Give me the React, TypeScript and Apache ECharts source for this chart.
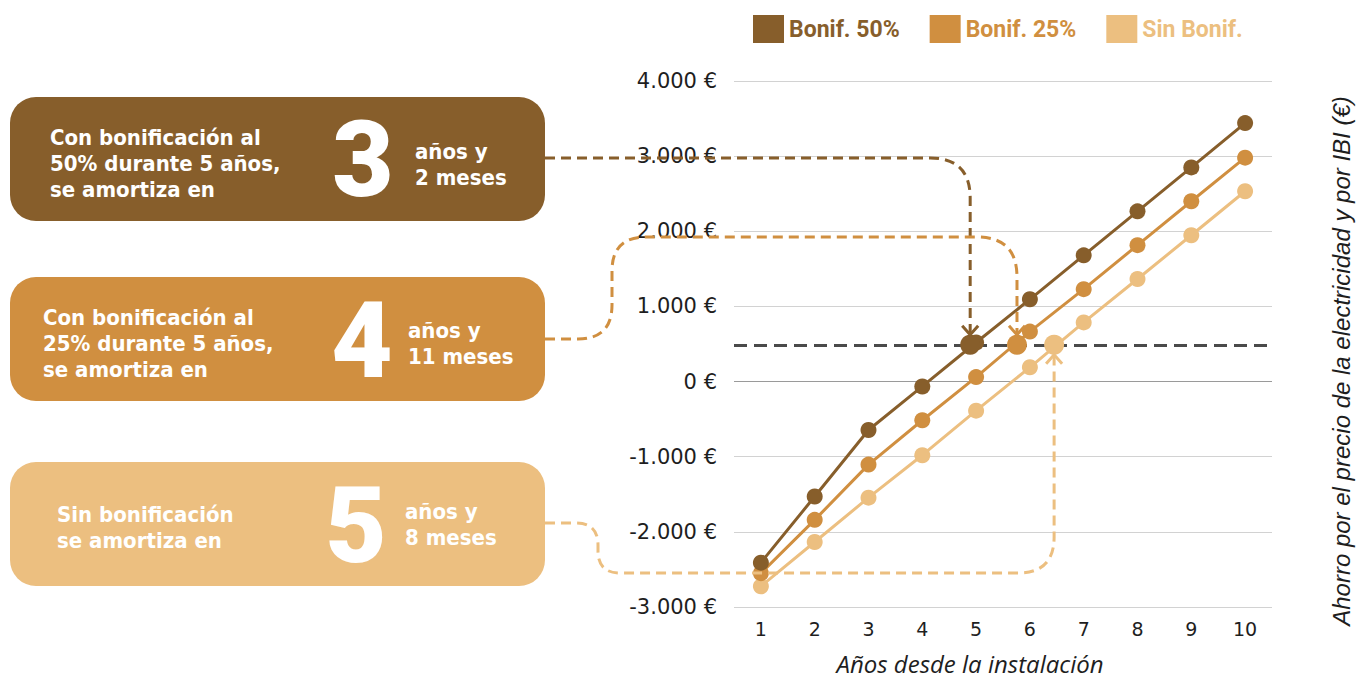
import React, { useEffect, useRef } from "react";
import * as echarts from "echarts";

const years = ["1", "2", "3", "4", "5", "6", "7", "8", "9", "10"];
const bonif50 = [-2410, -1530, -645, -65, 520, 1095, 1680, 2265, 2850, 3440];
const bonif25 = [-2550, -1840, -1105, -515, 60, 665, 1230, 1815, 2400, 2980];
const sinBonif = [-2725, -2135, -1545, -980, -387, 190, 787, 1365, 1947, 2533];
const threshold = 490;
// payback positions on the year axis (visual position of markers)
const paybackX = [4.89, 5.76, 6.45];
const seriesNames = ["Bonif. 50%", "Bonif. 25%", "Sin Bonif."];
const bigDigits = ["3", "4", "5"];
const boxLeftTexts = [
  "Con bonificación al\n50% durante 5 años,\nse amortiza en",
  "Con bonificación al\n25% durante 5 años,\nse amortiza en",
  "Sin bonificación\nse amortiza en",
];
const boxRightTexts = ["años y\n2 meses", "años y\n11 meses", "años y\n8 meses"];
const yTicksMin = -3000;
const yTicksMax = 4000;
const yTickStep = 1000;

const COLORS = ["#875E2B", "#D08F40", "#ECBF80"];
const TEXT = "#1e1e1e";
const BOX_FONT = "'DejaVu Sans Condensed', 'DejaVu Sans', Roboto, sans-serif";

function fmt(v: number) {
  const s = Math.abs(v).toString().replace(/\B(?=(\d{3})+(?!\d))/g, ".");
  return (v < 0 ? "-" : "") + s + " €";
}

export default function App() {
  const ref = useRef<HTMLDivElement>(null);
  useEffect(() => {
    const chart = echarts.init(ref.current!, null, { renderer: "svg" });
    const splitColors = [];
    for (let v = yTicksMin; v <= yTicksMax; v += yTickStep) splitColors.push(v === 0 ? "#9a9a9a" : "#d2d2d2");
    const data = [bonif50, bonif25, sinBonif];
    const zs = [5, 4, 3];
    chart.setOption({
      animation: false,
      grid: { left: 734, right: 85, top: 81, bottom: 73, containLabel: false, outerBoundsMode: "none" },
      legend: {
        left: 753,
        top: 15,
        padding: 0,
        icon: "rect",
        itemWidth: 31,
        itemHeight: 28,
        itemGap: 30,
        selectedMode: false,
        data: seriesNames.map((n, i) => ({
          name: n,
          textStyle: { color: COLORS[i] },
        })),
        textStyle: { fontFamily: "Roboto", fontWeight: "bold", fontSize: 23 },
      },
      xAxis: [
        {
          type: "category",
          data: years,
          axisLine: { show: false },
          axisTick: { show: false },
          axisLabel: { margin: 12, fontSize: 19, fontFamily: "DejaVu Sans", color: TEXT },
          name: "Años desde la instalación",
          nameLocation: "middle",
          nameGap: 44,
          nameTextStyle: {
            fontStyle: "italic",
            fontSize: 24,
            fontFamily: "Open Sans",
            color: TEXT,
            padding: [0, 66, 0, 0],
          },
        },
        { type: "value", min: 0.5, max: 10.5, show: false },
      ],
      yAxis: {
        type: "value",
        min: yTicksMin,
        max: yTicksMax,
        interval: yTickStep,
        axisLine: { show: false },
        axisTick: { show: false },
        axisLabel: { margin: 17, fontSize: 21, fontFamily: "DejaVu Sans", color: TEXT, formatter: fmt },
        splitLine: { lineStyle: { color: splitColors, width: 1 } },
      },
      series: [
        {
          type: "line",
          data: [],
          z: 1,
          silent: true,
          markLine: {
            symbol: "none",
            silent: true,
            label: { show: false },
            lineStyle: { color: "#4a4a4a", type: [13, 7], width: 3 },
            data: [{ yAxis: threshold }],
          },
        },
        ...seriesNames.map((n, i) => ({
          name: n,
          type: "line",
          data: data[i],
          z: zs[i],
          color: COLORS[i],
          symbol: "circle",
          symbolSize: 16,
          lineStyle: { width: 3, color: COLORS[i] },
          itemStyle: { color: COLORS[i] },
        })),
        ...paybackX.map((x, i) => ({
          type: "scatter",
          xAxisIndex: 1,
          data: [[x, threshold]],
          symbolSize: 20,
          z: 6,
          itemStyle: { color: COLORS[i], opacity: 1 },
        })),
      ],
    });

    const pts = paybackX.map((x) => chart.convertToPixel({ xAxisIndex: 1, yAxisIndex: 0 }, [x, threshold]) as number[]);
    const [d0, d1, d2] = pts;
    const R = 10; // marker radius
    const paths = [
      `M545 158 H${d0[0] - 40} Q${d0[0]} 158 ${d0[0]} 198 V${d0[1] - R}`,
      `M545 339 H578 Q612 339 612 305 V271 Q612 237 646 237 H${d1[0] - 40} Q${d1[0]} 237 ${d1[0]} 277 V${d1[1] - R}`,
      `M545 523 H576 Q598 523 598 545 V551 Q598 573 620 573 H${d2[0] - 36} Q${d2[0]} 573 ${d2[0]} 537 V${d2[1] + R}`,
    ];
    paths.forEach((d, i) => {
      echarts.graphic.registerShape("dashPath" + i, echarts.graphic.extendPath(d, {}));
    });

    const graphics: any[] = [];
    const boxTops = [97, 277, 462];
    const leftX = [50, 43, 57];
    const leftY = [163, 343, 527];
    const digitX = [363, 362, 356];
    const digitY = [160, 341, 526];
    const rightX = [415, 408, 405];
    const rightY = [164, 343, 524];
    boxTops.forEach((t, i) => {
      graphics.push({
        type: "rect",
        shape: { x: 10, y: t, width: 535, height: 124, r: 26 },
        style: { fill: COLORS[i] },
        z: 10,
      });
      graphics.push({
        type: "text",
        z: 11,
        style: {
          text: boxLeftTexts[i],
          x: leftX[i],
          y: leftY[i],
          fill: "#fff",
          fontFamily: BOX_FONT,
          fontWeight: "bold",
          fontSize: 22,
          lineHeight: 26,
          textVerticalAlign: "middle",
        },
      });
      graphics.push({
        type: "text",
        z: 11,
        style: {
          text: bigDigits[i],
          x: digitX[i],
          y: digitY[i],
          fill: "#fff",
          fontFamily: "Roboto",
          fontWeight: 900,
          fontSize: 106,
          textAlign: "center",
          textVerticalAlign: "middle",
        },
      });
      graphics.push({
        type: "text",
        z: 11,
        style: {
          text: boxRightTexts[i],
          x: rightX[i],
          y: rightY[i],
          fill: "#fff",
          fontFamily: BOX_FONT,
          fontWeight: "bold",
          fontSize: 22,
          lineHeight: 26,
          textVerticalAlign: "middle",
        },
      });
      graphics.push({
        type: "dashPath" + i,
        x: 0,
        y: 0,
        z: 12,
        silent: true,
        style: { stroke: COLORS[i], lineWidth: 3, lineDash: [10, 6], fill: null },
      });
    });
    // arrowheads
    [d0, d1].forEach((p, i) => {
      const tip = p[1] - R;
      graphics.push({
        type: "polyline",
        z: 12,
        silent: true,
        shape: { points: [[p[0] - 8, tip - 9], [p[0], tip], [p[0] + 8, tip - 9]] },
        style: { stroke: COLORS[i], lineWidth: 3, fill: null },
      });
    });
    {
      const tip = d2[1] + R;
      graphics.push({
        type: "polyline",
        z: 12,
        silent: true,
        shape: { points: [[d2[0] - 8, tip + 9], [d2[0], tip], [d2[0] + 8, tip + 9]] },
        style: { stroke: COLORS[2], lineWidth: 3, fill: null },
      });
    }
    graphics.push({
      type: "text",
      z: 11,
      x: 1341,
      y: 361,
      rotation: Math.PI / 2,
      style: {
        text: "Ahorro por el precio de la electricidad y por IBI (€)",
        x: 0,
        y: 0,
        fill: TEXT,
        fontFamily: "Liberation Sans",
        fontStyle: "italic",
        fontSize: 24,
        textAlign: "center",
        textVerticalAlign: "middle",
      },
    });
    chart.setOption({ graphic: graphics });
    return () => chart.dispose();
  }, []);
  return <div ref={ref} style={{ width: 1357, height: 680, position: "absolute", left: 0, top: 0 }} />;
}
